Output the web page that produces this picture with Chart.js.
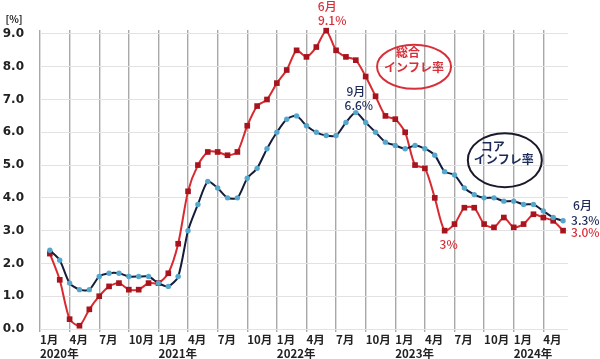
<!DOCTYPE html>
<html>
<head>
<meta charset="utf-8">
<script src="https://cdn.jsdelivr.net/npm/chart.js@4/dist/chart.umd.min.js"></script>
<style>
  html, body { margin: 0; padding: 0; background: #fff; }
  #wrap { width: 600px; height: 359px; position: relative; }
</style>
</head>
<body>
<div id="wrap"><canvas id="cpi"></canvas></div>
<script>
// monthly index 0 = 2020/1 ... 53 = 2024/6
const tickMonths = ['1月', '4月', '7月', '10月'];
const tickYears = ['2020年', '2021年', '2022年', '2023年', '2024年'];
const xTicks = [0, 3, 6, 9, 12, 15, 18, 21, 24, 27, 30, 33, 36, 39, 42, 45, 48, 51];
const yTicks = [0, 1, 2, 3, 4, 5, 6, 7, 8, 9];

// headline CPI (総合インフレ率), yoy %, from 2020/2
const headline = [
  2.3, 1.5, 0.3, 0.1, 0.6, 1.0, 1.3, 1.4, 1.2, 1.2, 1.4,
  1.4, 1.7, 2.6, 4.2, 5.0, 5.4, 5.4, 5.3, 5.4, 6.2, 6.8, 7.0,
  7.5, 7.9, 8.5, 8.3, 8.6, 9.1, 8.5, 8.3, 8.2, 7.7, 7.1, 6.5,
  6.4, 6.0, 5.0, 4.9, 4.0, 3.0, 3.2, 3.7, 3.7, 3.2, 3.1, 3.4,
  3.1, 3.2, 3.5, 3.4, 3.3, 3.0
];
// core CPI (コアインフレ率), yoy %, from 2020/2
const core = [
  2.4, 2.1, 1.4, 1.2, 1.2, 1.6, 1.7, 1.7, 1.6, 1.6, 1.6,
  1.4, 1.3, 1.6, 3.0, 3.8, 4.5, 4.3, 4.0, 4.0, 4.6, 4.9, 5.5,
  6.0, 6.4, 6.5, 6.2, 6.0, 5.9, 5.9, 6.3, 6.6, 6.3, 6.0, 5.7,
  5.6, 5.5, 5.6, 5.5, 5.3, 4.8, 4.7, 4.3, 4.1, 4.0, 4.0, 3.9,
  3.9, 3.8, 3.8, 3.6, 3.4, 3.3
];
const firstIndex = 1; // data starts at 2020/2

const RED = '#d8303a';
const NAVY = '#1c2a58';
const JP = '"Noto Sans CJK JP", sans-serif';

function toPoints(arr) {
  return arr.map((v, i) => ({ x: firstIndex + i, y: v }));
}

// callouts, ellipses and the [%] unit
const notes = {
  id: 'notes',
  afterDatasetsDraw(chart) {
    const ctx = chart.ctx;
    const x = chart.scales.x, y = chart.scales.y;
    const last = firstIndex + headline.length - 1;

    ctx.save();
    ctx.textBaseline = 'middle';

    function txt(s, px, py, color, align, font) {
      ctx.fillStyle = color;
      ctx.textAlign = align || 'center';
      ctx.font = font || '12px ' + JP;
      ctx.fillText(s, px, py);
    }
    function oval(cx, cy, rx, ry, color) {
      ctx.beginPath();
      ctx.ellipse(cx, cy, rx, ry, 0, 0, Math.PI * 2);
      ctx.strokeStyle = color;
      ctx.lineWidth = 2;
      ctx.stroke();
    }

    // unit
    txt('[%]', 14, 19, '#222', 'center', 'bold 10px ' + JP);

    // peak 2022/6
    const pk = headline.indexOf(Math.max(...headline)) + firstIndex;
    const pkX = x.getPixelForValue(pk), pkY = y.getPixelForValue(headline[pk - firstIndex]);
    txt('6月', pkX + 1, pkY - 24, RED, 'center', '500 12px ' + JP);
    txt('9.1%', pkX + 6, pkY - 10, RED, 'center', '500 12px ' + JP);

    // core peak 2022/9
    const cp = 32;
    const cpX = x.getPixelForValue(cp), cpY = y.getPixelForValue(core[cp - firstIndex]);
    txt('9月', cpX, cpY - 21, NAVY, 'center', '500 12px ' + JP);
    txt('6.6%', cpX + 3, cpY - 7, NAVY, 'center', '500 12px ' + JP);

    // low 2023/6
    const lo = 41;
    txt('3%', x.getPixelForValue(lo) + 4, y.getPixelForValue(headline[lo - firstIndex]) + 14, RED, 'center', '500 12px ' + JP);

    // latest
    const lx = x.getPixelForValue(last);
    const cY = y.getPixelForValue(core[core.length - 1]);
    const hY = y.getPixelForValue(headline[headline.length - 1]);
    txt('6月', lx + 10, cY - 15, NAVY, 'left', '500 12px ' + JP);
    txt('3.3%', lx + 8, cY, NAVY, 'left', '500 12px ' + JP);
    txt('3.0%', lx + 8, hY + 1.5, RED, 'left', '500 12px ' + JP);

    // legend ovals
    const o1x = x.getPixelForValue(37.9), o1y = y.getPixelForValue(8.0);
    oval(o1x, o1y, 37, 22, RED);
    txt('総合', o1x - 6, o1y - 14, RED, 'center', 'bold 12px ' + JP);
    txt('インフレ率', o1x, o1y + 1, RED, 'center', 'bold 12px ' + JP);

    const o2x = x.getPixelForValue(47.1), o2y = y.getPixelForValue(5.15);
    oval(o2x, o2y, 37, 27, '#1a1a2a');
    txt('コア', o2x - 12, o2y - 14, NAVY, 'center', 'bold 12px ' + JP);
    txt('インフレ率', o2x - 1, o2y - 1, NAVY, 'center', 'bold 12px ' + JP);

    ctx.restore();
  }
};

new Chart(document.getElementById('cpi'), {
  type: 'line',
  data: {
    datasets: [
      {
        label: 'コアインフレ率',
        data: toPoints(core),
        borderColor: '#141c3c',
        borderWidth: 2,
        tension: 0.25,
        pointStyle: 'circle',
        pointRadius: 2.7,
        pointBackgroundColor: '#55a8cc',
        pointBorderColor: '#55a8cc',
        pointBorderWidth: 0,
        clip: false
      },
      {
        label: '総合インフレ率',
        data: toPoints(headline),
        borderColor: '#d82a30',
        borderWidth: 2,
        tension: 0.25,
        pointStyle: 'rect',
        pointRadius: 4,
        pointBackgroundColor: '#a8141e',
        pointBorderColor: '#a8141e',
        pointBorderWidth: 0,
        clip: false
      }
    ]
  },
  options: {
    responsive: true,
    maintainAspectRatio: false,
    animation: false,
    layout: { padding: { top: 30, right: 32, left: 0, bottom: 0 } },
    plugins: {
      legend: { display: false },
      tooltip: { enabled: false }
    },
    scales: {
      x: {
        type: 'linear',
        min: 0,
        max: 53.5,
        afterBuildTicks: s => { s.ticks = xTicks.map(v => ({ value: v })); },
        afterFit: s => { s.height = 30; },
        border: { display: false },
        grid: { color: '#a8a8a8', lineWidth: 1.4, tickLength: 3, drawTicks: true },
        ticks: {
          autoSkip: false,
          maxRotation: 0,
          align: 'start',
          padding: 0,
          color: '#222',
          font: { family: JP, size: 11.5, weight: 'bold', lineHeight: 1.25 },
          callback: v => {
            const q = v / 3;
            const m = tickMonths[q % 4];
            return q % 4 === 0 ? [m, tickYears[q / 4]] : [m];
          }
        }
      },
      y: {
        min: 0,
        max: 9.12,
        afterBuildTicks: s => { s.ticks = yTicks.map(v => ({ value: v })); },
        afterFit: s => { s.width = 40; },
        border: { display: false },
        grid: { color: '#e2e2e2', lineWidth: 1, drawTicks: false },
        ticks: {
          padding: 16,
          color: '#222',
          font: { family: '"DejaVu Sans", sans-serif', size: 12, weight: 'bold' },
          callback: v => v.toFixed(1)
        }
      }
    }
  },
  plugins: [notes]
});
</script>
</body>
</html>
